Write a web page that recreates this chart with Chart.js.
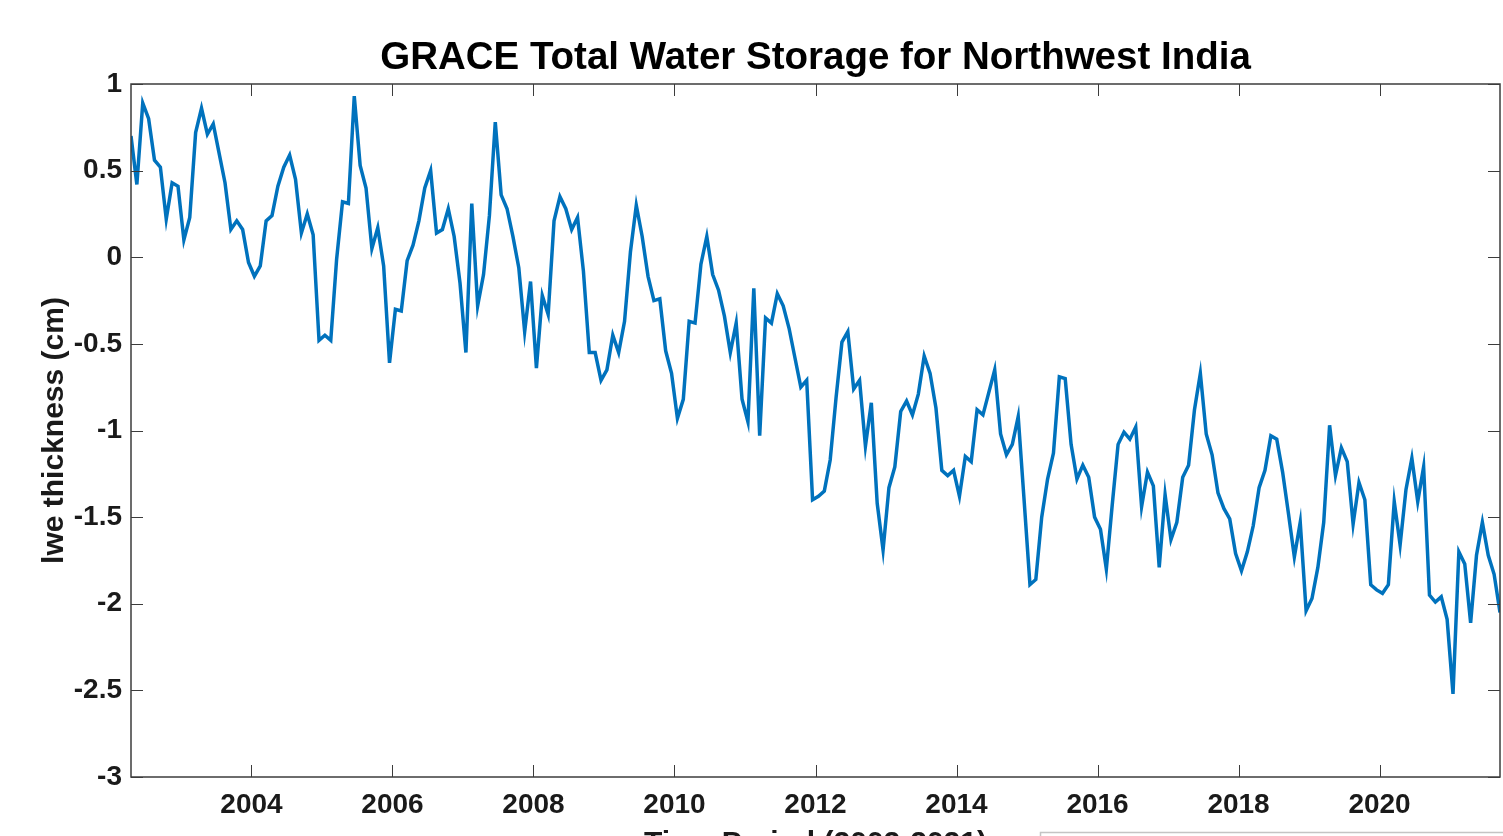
<!DOCTYPE html>
<html>
<head>
<meta charset="utf-8">
<script src="https://cdn.jsdelivr.net/npm/chart.js@4/dist/chart.umd.min.js"></script>
<style>
  html, body { margin: 0; padding: 0; background: #ffffff; overflow: hidden; width: 1503px; height: 836px; }
  canvas { display: block; }
</style>
</head>
<body>
<canvas id="c" width="1503" height="867"></canvas>
<script>
// Monthly GRACE samples (year-month)
const months = [
  "2002-04","2002-05","2002-06","2002-07","2002-08","2002-09","2002-10","2002-11","2002-12",
  "2003-01","2003-02","2003-03","2003-04","2003-05","2003-06","2003-07","2003-08","2003-09","2003-10","2003-11","2003-12",
  "2004-01","2004-02","2004-03","2004-04","2004-05","2004-06","2004-07","2004-08","2004-09","2004-10","2004-11","2004-12",
  "2005-01","2005-02","2005-03","2005-04","2005-05","2005-06","2005-07","2005-08","2005-09","2005-10","2005-11","2005-12",
  "2006-01","2006-02","2006-03","2006-04","2006-05","2006-06","2006-07","2006-08","2006-09","2006-10","2006-11","2006-12",
  "2007-01","2007-02","2007-03","2007-04","2007-05","2007-06","2007-07","2007-08","2007-09","2007-10","2007-11","2007-12",
  "2008-01","2008-02","2008-03","2008-04","2008-05","2008-06","2008-07","2008-08","2008-09","2008-10","2008-11","2008-12",
  "2009-01","2009-02","2009-03","2009-04","2009-05","2009-06","2009-07","2009-08","2009-09","2009-10","2009-11","2009-12",
  "2010-01","2010-02","2010-03","2010-04","2010-05","2010-06","2010-07","2010-08","2010-09","2010-10","2010-11","2010-12",
  "2011-01","2011-02","2011-03","2011-04","2011-05","2011-06","2011-07","2011-08","2011-09","2011-10","2011-11","2011-12",
  "2012-01","2012-02","2012-03","2012-04","2012-05","2012-06","2012-07","2012-08","2012-09","2012-10","2012-11","2012-12",
  "2013-01","2013-02","2013-03","2013-04","2013-05","2013-06","2013-07","2013-08","2013-09","2013-10","2013-11","2013-12",
  "2014-01","2014-02","2014-03","2014-04","2014-05","2014-06","2014-07","2014-08","2014-09","2014-10","2014-11","2014-12",
  "2015-01","2015-02","2015-03","2015-04","2015-05","2015-06","2015-07","2015-08","2015-09","2015-10","2015-11","2015-12",
  "2016-01","2016-02","2016-03","2016-04","2016-05","2016-06","2016-07","2016-08","2016-09","2016-10","2016-11","2016-12",
  "2017-01","2017-02","2017-03","2017-04","2017-05","2017-06","2017-07","2017-08","2017-09","2017-10","2017-11","2017-12",
  "2018-01","2018-02","2018-03","2018-04","2018-05","2018-06","2018-07","2018-08","2018-09","2018-10","2018-11","2018-12",
  "2019-01","2019-02","2019-03","2019-04","2019-05","2019-06","2019-07","2019-08","2019-09","2019-10","2019-11","2019-12",
  "2020-01","2020-02","2020-03","2020-04","2020-05","2020-06","2020-07","2020-08","2020-09","2020-10","2020-11","2020-12",
  "2021-01","2021-02","2021-03","2021-04","2021-05","2021-06","2021-07","2021-08","2021-09"
];

// Liquid water equivalent thickness (cm)
const lweThickness = [
  0.70, 0.42, 0.89, 0.80, 0.56, 0.52, 0.22, 0.43, 0.41,
  0.10, 0.23, 0.72, 0.86, 0.71, 0.77, 0.60, 0.43, 0.16, 0.21, 0.16, -0.03,
  -0.11, -0.05, 0.21, 0.24, 0.41, 0.52, 0.59, 0.45, 0.14, 0.25, 0.13, -0.48,
  -0.45, -0.48, -0.01, 0.32, 0.31, 0.93, 0.53, 0.40, 0.05, 0.17, -0.05, -0.61,
  -0.30, -0.31, -0.02, 0.07, 0.21, 0.40, 0.50, 0.14, 0.16, 0.28, 0.12, -0.15,
  -0.55, 0.31, -0.28, -0.10, 0.24, 0.78, 0.36, 0.28, 0.12, -0.06, -0.43, -0.14,
  -0.64, -0.22, -0.33, 0.21, 0.35, 0.28, 0.16, 0.23, -0.08, -0.55, -0.55, -0.71,
  -0.65, -0.45, -0.55, -0.37, 0.03, 0.30, 0.12, -0.11, -0.25, -0.24, -0.54, -0.67,
  -0.93, -0.82, -0.37, -0.38, -0.04, 0.12, -0.10, -0.19, -0.34, -0.55, -0.38, -0.82,
  -0.95, -0.18, -1.03, -0.35, -0.38, -0.21, -0.28, -0.41, -0.58, -0.75, -0.71, -1.40,
  -1.38, -1.35, -1.17, -0.81, -0.49, -0.43, -0.76, -0.71, -1.09, -0.84, -1.42, -1.69,
  -1.33, -1.21, -0.89, -0.83, -0.91, -0.79, -0.57, -0.67, -0.87, -1.23, -1.26, -1.23,
  -1.38, -1.15, -1.18, -0.88, -0.91, -0.78, -0.65, -1.02, -1.14, -1.08, -0.92, -1.40,
  -1.89, -1.86, -1.50, -1.28, -1.13, -0.69, -0.70, -1.08, -1.28, -1.20, -1.27, -1.50,
  -1.57, -1.80, -1.43, -1.08, -1.01, -1.05, -0.98, -1.44, -1.24, -1.32, -1.79, -1.37,
  -1.63, -1.53, -1.27, -1.20, -0.88, -0.67, -1.02, -1.14, -1.36, -1.45, -1.51, -1.71,
  -1.81, -1.70, -1.55, -1.33, -1.23, -1.03, -1.05, -1.24, -1.48, -1.73, -1.53, -2.04,
  -1.97, -1.79, -1.53, -0.97, -1.26, -1.10, -1.18, -1.54, -1.30, -1.40, -1.89, -1.92,
  -1.94, -1.89, -1.41, -1.66, -1.34, -1.16, -1.41, -1.21, -1.95, -1.99, -1.96, -2.09,
  -2.52, -1.70, -1.77, -2.11, -1.72, -1.53, -1.72, -1.83, -2.05
];

const xTickYears = [2004, 2006, 2008, 2010, 2012, 2014, 2016, 2018, 2020];
const yTickValues = [-3, -2.5, -2, -1.5, -1, -0.5, 0, 0.5, 1];

const titleText = "GRACE Total Water Storage for Northwest India";
const xTitleText = "Time Period (2002-2021)";
const yTitleText = "lwe thickness (cm)";

// Build point table: month centre as decimal year
const points = months.map((m, i) => {
  const [yy, mm] = m.split("-").map(Number);
  return { x: yy + (mm - 0.5) / 12, y: lweThickness[i] };
});

const FONT = "'Liberation Sans', Arial, Helvetica, sans-serif";
const TXT = "#1a1a1a";

const framePlugin = {
  id: "frame",
  afterDatasetsDraw(chart) {
    const { ctx, chartArea: a, scales: { x, y } } = chart;
    ctx.save();
    ctx.strokeStyle = "#3c3c3c";
    ctx.lineWidth = 1.5;
    ctx.strokeRect(a.left, a.top, a.right - a.left, a.bottom - a.top);
    ctx.beginPath();
    const tl = 12;
    x.ticks.forEach(t => {
      const px = Math.round(x.getPixelForValue(t.value)) + 0.5;
      ctx.moveTo(px, a.bottom); ctx.lineTo(px, a.bottom - tl);
      ctx.moveTo(px, a.top); ctx.lineTo(px, a.top + tl);
    });
    y.ticks.forEach(t => {
      const py = Math.round(y.getPixelForValue(t.value)) + 0.5;
      ctx.moveTo(a.left, py); ctx.lineTo(a.left + tl, py);
      ctx.moveTo(a.right, py); ctx.lineTo(a.right - tl, py);
    });
    ctx.lineWidth = 1;
    ctx.stroke();
    ctx.restore();
  },
  afterDraw(chart) {
    // partially visible box at bottom right (cropped in the original)
    const { ctx } = chart;
    ctx.save();
    ctx.strokeStyle = "#c4c4c4";
    ctx.lineWidth = 1.5;
    ctx.fillStyle = "#ffffff";
    const bx = Math.round(chart.width * 0.692) + 0.5;
    const by = 832.5;
    ctx.fillRect(bx, by, chart.width, 60);
    ctx.strokeRect(bx, by, chart.width, 60);
    ctx.restore();
  }
};

new Chart(document.getElementById("c"), {
  type: "line",
  data: {
    datasets: [{
      data: points,
      borderColor: "#0072BD",
      borderWidth: 3.5,
      pointRadius: 0,
      tension: 0,
      fill: false
    }]
  },
  options: {
    responsive: false,
    animation: false,
    devicePixelRatio: 1,
    layout: { padding: { left: 0, right: 3, top: 0, bottom: 5 } },
    plugins: {
      legend: { display: false },
      tooltip: { enabled: false },
      title: {
        display: true,
        text: titleText,
        fullSize: false,
        color: "#000000",
        font: { family: FONT, size: 38.5, weight: "bold", lineHeight: 1.2 },
        padding: { top: 35, bottom: 2.8 }
      }
    },
    scales: {
      x: {
        type: "linear",
        min: points[0].x,
        max: points[points.length - 1].x,
        afterBuildTicks: s => { s.ticks = xTickYears.map(v => ({ value: v })); },
        afterFit: s => { s.height = 85; },
        grid: { display: false, drawTicks: false, tickLength: 0 },
        border: { display: false },
        ticks: {
          color: TXT,
          padding: 11,
          maxRotation: 0,
          autoSkip: false,
          font: { family: FONT, size: 28, weight: "bold", lineHeight: 1.2 },
          callback: v => String(v)
        },
        title: {
          display: true,
          text: xTitleText,
          color: TXT,
          font: { family: FONT, size: 30, weight: "bold", lineHeight: 1.2 },
          padding: { top: 0, bottom: 0 }
        }
      },
      y: {
        min: -3,
        max: 1,
        afterBuildTicks: s => { s.ticks = yTickValues.map(v => ({ value: v })); },
        afterFit: s => { s.width = 131; },
        grid: { display: false, drawTicks: false, tickLength: 0 },
        border: { display: false },
        ticks: {
          color: TXT,
          padding: 9,
          autoSkip: false,
          font: { family: FONT, size: 28, weight: "bold", lineHeight: 1.2 },
          callback: v => String(v)
        },
        title: {
          display: true,
          text: yTitleText,
          color: TXT,
          font: { family: FONT, size: 30, weight: "bold", lineHeight: 1.2 },
          padding: { top: 37, bottom: 0 }
        }
      }
    }
  },
  plugins: [framePlugin]
});
</script>
</body>
</html>
